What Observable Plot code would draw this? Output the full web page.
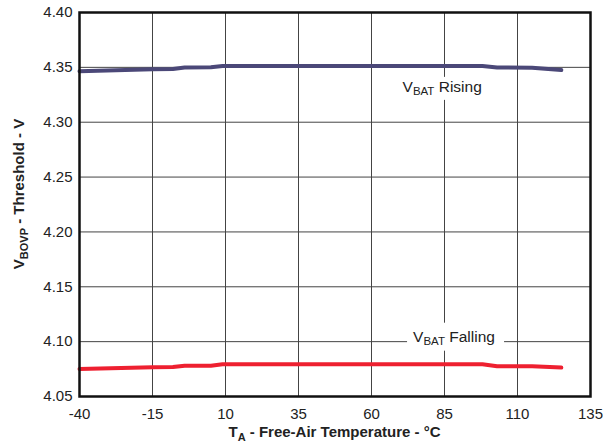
<!DOCTYPE html>
<html>
<head>
<meta charset="utf-8">
<script src="https://cdn.jsdelivr.net/npm/d3@7"></script>
<script src="https://cdn.jsdelivr.net/npm/@observablehq/plot@0.6"></script>
<style>
  html, body { margin: 0; padding: 0; background: #fff; }
  svg { font-family: "Liberation Sans", Arial, sans-serif; }
</style>
</head>
<body>
<div id="chart"></div>
<script>
const temps = [-40, -15, -8, -4, 5, 9, 35, 60, 85, 98, 103, 115, 125];
const rising = [4.3465, 4.3483, 4.3486, 4.3499, 4.3501, 4.3512, 4.3512, 4.3512, 4.3512, 4.3512, 4.3499, 4.3496, 4.3476];
const falling = [4.0750, 4.0766, 4.0768, 4.0780, 4.0781, 4.0794, 4.0794, 4.0794, 4.0794, 4.0794, 4.0776, 4.0776, 4.0764];
const xTicks = [-40, -15, 10, 35, 60, 85, 110, 135];
const yTicks = [4.05, 4.10, 4.15, 4.20, 4.25, 4.30, 4.35, 4.40];
const seriesNames = ["Rising", "Falling"];

const risingData = temps.map((t, i) => ({t, v: rising[i]}));
const fallingData = temps.map((t, i) => ({t, v: falling[i]}));

const plot = Plot.plot({
  width: 603,
  height: 447,
  marginLeft: 79,
  marginRight: 13,
  marginTop: 12,
  marginBottom: 51,
  style: {fontFamily: "Liberation Sans, Arial, sans-serif", background: "#fff"},
  x: {domain: [-40, 135], ticks: xTicks},
  y: {domain: [4.05, 4.40], ticks: yTicks},
  marks: [
    Plot.gridX(xTicks, {stroke: "#444", strokeOpacity: 1, strokeWidth: 1}),
    Plot.gridY(yTicks, {stroke: "#444", strokeOpacity: 1, strokeWidth: 1}),
    Plot.axisX(xTicks, {tickSize: 0, tickPadding: 12, fontSize: 15, fill: "#222", label: null, tickFormat: d => String(d)}),
    Plot.axisY(yTicks, {tickSize: 0, tickPadding: 7, fontSize: 15, fill: "#222", label: null, tickFormat: d => d.toFixed(2)}),
    Plot.line(risingData, {x: "t", y: "v", stroke: "#4b4878", strokeWidth: 4, curve: "linear"}),
    Plot.line(fallingData, {x: "t", y: "v", stroke: "#ee2030", strokeWidth: 4, curve: "linear"}),
    Plot.frame({stroke: "#111", strokeWidth: 2.5})
  ]
});
document.getElementById("chart").appendChild(plot);

const svg = d3.select(plot);
const xs = plot.scale("x"), ys = plot.scale("y");
const X = v => xs.apply(v), Y = v => ys.apply(v);

// series labels with white backing
const labels = [
  {name: seriesNames[0], t: 70.8, v: 4.3272, box: [-8, -15, 98, 23]},
  {name: seriesNames[1], t: 74.4, v: 4.0995, box: [-6, -19, 97, 28]}
];
const frameNode = svg.select("[aria-label=frame]").node();
labels.forEach(l => {
  const x = X(l.t), y = Y(l.v);
  const g = svg.insert("g", () => frameNode);
  g.append("rect").attr("x", x + l.box[0]).attr("y", y + l.box[1])
    .attr("width", l.box[2]).attr("height", l.box[3]).attr("fill", "#fff");
  const txt = g.append("text").attr("x", x).attr("y", y).attr("text-anchor", "start")
    .attr("font-size", 15.5).attr("fill", "#222");
  txt.append("tspan").text("V");
  txt.append("tspan").attr("font-size", 11.5).attr("dy", 3).text("BAT");
  txt.append("tspan").attr("dy", -3).text(" " + l.name);
});

// axis titles
const xt = svg.append("text").attr("x", (X(-40) + X(135)) / 2 + 0).attr("y", 437)
  .attr("text-anchor", "middle").attr("font-size", 15).attr("font-weight", "bold").attr("fill", "#222");
xt.append("tspan").text("T");
xt.append("tspan").attr("font-size", 11).attr("dy", 4).text("A");
xt.append("tspan").attr("dy", -4).text(" - Free-Air Temperature - °C");

const yt = svg.append("text").attr("transform", `translate(24,${(Y(4.05) + Y(4.40)) / 2 - 10}) rotate(-90)`)
  .attr("text-anchor", "middle").attr("font-size", 15).attr("font-weight", "bold").attr("fill", "#222");
yt.append("tspan").text("V");
yt.append("tspan").attr("font-size", 11).attr("dy", 4).text("BOVP");
yt.append("tspan").attr("dy", -4).text(" - Threshold - V");
</script>
</body>
</html>
